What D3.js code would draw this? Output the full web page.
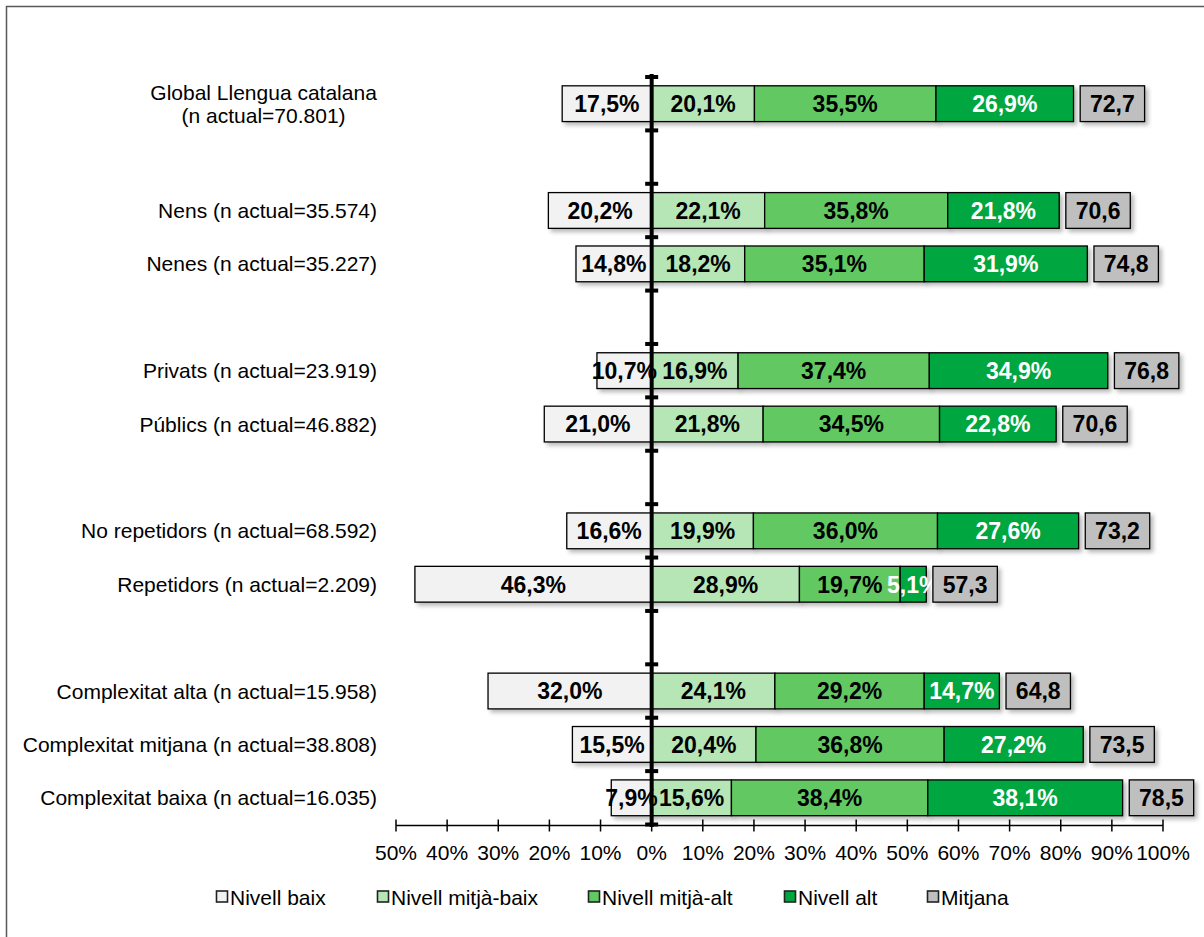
<!DOCTYPE html>
<html><head><meta charset="utf-8">
<script src="https://cdn.jsdelivr.net/npm/d3@7"></script>
<style>body{margin:0;background:#fff}svg{display:block}text{font-family:"Liberation Sans",Arial,sans-serif}</style>
</head><body><svg id="c" width="1204" height="937"></svg>
<script>
const categories = ["Global Llengua catalana\n(n actual=70.801)", "", "Nens (n actual=35.574)", "Nenes (n actual=35.227)", "", "Privats (n actual=23.919)", "Públics (n actual=46.882)", "", "No repetidors (n actual=68.592)", "Repetidors (n actual=2.209)", "", "Complexitat alta (n actual=15.958)", "Complexitat mitjana (n actual=38.808)", "Complexitat baixa (n actual=16.035)"];
const nivellBaix     = [17.5, null, 20.2, 14.8, null, 10.7, 21.0, null, 16.6, 46.3, null, 32.0, 15.5, 7.9];
const nivellMitjaBaix= [20.1, null, 22.1, 18.2, null, 16.9, 21.8, null, 19.9, 28.9, null, 24.1, 20.4, 15.6];
const nivellMitjaAlt = [35.5, null, 35.8, 35.1, null, 37.4, 34.5, null, 36.0, 19.7, null, 29.2, 36.8, 38.4];
const nivellAlt      = [26.9, null, 21.8, 31.9, null, 34.9, 22.8, null, 27.6, 5.1, null, 14.7, 27.2, 38.1];
const mitjana        = [72.7, null, 70.6, 74.8, null, 76.8, 70.6, null, 73.2, 57.3, null, 64.8, 73.5, 78.5];
const seriesNames = ["Nivell baix", "Nivell mitjà-baix", "Nivell mitjà-alt", "Nivell alt", "Mitjana"];
const xTicks = [-50,-40,-30,-20,-10,0,10,20,30,40,50,60,70,80,90,100];

const colors = ["#F2F2F2", "#B6E5B6", "#62C962", "#00A63F", "#BFBFBF"];
const textColors = ["#000", "#000", "#000", "#fff", "#000"];
const fmt = v => v.toFixed(1).replace(".", ",");
const FS = 21, LFS = 23;

const svg = d3.select("#c");
const defs = svg.append("defs");
const f = defs.append("filter").attr("id","sh").attr("x","-10%").attr("y","-30%").attr("width","130%").attr("height","180%");
f.append("feDropShadow").attr("dx",3).attr("dy",3).attr("stdDeviation",2.2).attr("flood-color","#000").attr("flood-opacity",0.28);

svg.append("path").attr("d","M6.5,940 V6.5 H1210").attr("fill","none").attr("stroke","#595959").attr("stroke-width",1.5);

const x = d3.scaleLinear().domain([-50,100]).range([396,1163]);
const y = d3.scaleBand().domain(d3.range(categories.length)).range([77,824.5]).paddingInner(0.33).paddingOuter(0.165);
const yb = d3.scaleBand().domain(d3.range(categories.length)).range([77,824.5]);
const bh = y.bandwidth();

const rows = d3.range(categories.length).filter(i => nivellBaix[i] !== null).map(i => {
  const vals = [nivellBaix[i], nivellMitjaBaix[i], nivellMitjaAlt[i], nivellAlt[i]];
  const segs = [{k:0, x0:-vals[0], x1:0, v:vals[0]}];
  let acc = 0;
  for (let k=1;k<4;k++){ segs.push({k, x0:acc, x1:acc+vals[k], v:vals[k]}); acc += vals[k]; }
  return {i, segs, end: acc, m: mitjana[i]};
});
const gapPct = 1.3, boxPct = 12.6;

const g = svg.append("g");
rows.forEach(r => {
  const gy = y(r.i);
  r.segs.forEach(s => {
    g.append("rect").attr("x", x(s.x0)).attr("y", gy).attr("width", x(s.x1)-x(s.x0)).attr("height", bh)
      .attr("fill", colors[s.k]).attr("stroke","#000").attr("stroke-width",1.3).attr("filter","url(#sh)");
  });
});
rows.forEach(r => {
  const gy = y(r.i);
  r.segs.forEach(s => {
    g.append("text").attr("x", (x(s.x0)+x(s.x1))/2).attr("y", gy+bh/2).attr("dy","0.36em")
      .attr("text-anchor","middle").attr("font-weight","bold").attr("font-size",LFS).attr("fill",textColors[s.k]).text(fmt(s.v)+"%");
  });
});
rows.forEach(r => {
  const gy = y(r.i);
  const bx0 = x(r.end+gapPct), bx1 = x(r.end+gapPct+boxPct);
  g.append("rect").attr("x", bx0).attr("y", gy).attr("width", bx1-bx0).attr("height", bh)
    .attr("fill", colors[4]).attr("stroke","#000").attr("stroke-width",1.3).attr("filter","url(#sh)");
  g.append("text").attr("x", (bx0+bx1)/2).attr("y", gy+bh/2).attr("dy","0.36em")
    .attr("text-anchor","middle").attr("font-weight","bold").attr("font-size",LFS).attr("fill","#000").text(fmt(r.m));
});

categories.forEach((c,i) => {
  if (!c) return;
  const lines = c.split("\n");
  const cy = yb(i) + yb.bandwidth()/2;
  if (lines.length === 1) {
    svg.append("text").attr("x",377).attr("y",cy).attr("dy","0.36em").attr("text-anchor","end").attr("font-size",FS).text(c);
  } else {
    const t = svg.append("text").attr("font-size",FS).attr("text-anchor","middle");
    lines.forEach((l,j)=> t.append("tspan").attr("x",0).attr("y", cy + (j-(lines.length-1)/2)*23).attr("dy","0.36em").text(l));
    const w = t.node().getBBox().width;
    t.selectAll("tspan").attr("x", 377 - w/2);
  }
});

const ax = svg.append("g").attr("transform","translate(0,825.5)");
ax.append("line").attr("x1",x(-50)).attr("x2",x(100)).attr("stroke","#000").attr("stroke-width",1.5);
ax.selectAll("line.t").data(xTicks).enter().append("line").attr("class","t")
  .attr("x1",d=>x(d)).attr("x2",d=>x(d)).attr("y1",-6).attr("y2",6).attr("stroke","#000").attr("stroke-width",1.5);
ax.selectAll("text").data(xTicks).enter().append("text").attr("x",d=>x(d)).attr("y",27).attr("dy","0.36em")
  .attr("text-anchor","middle").attr("font-size",FS).text(d=>Math.abs(d)+"%");

const x0 = x(0);
svg.append("line").attr("x1",x0).attr("x2",x0).attr("y1",74).attr("y2",827).attr("stroke","#000").attr("stroke-width",4);
svg.selectAll("rect.vt").data(d3.range(categories.length+1)).enter().append("rect").attr("class","vt")
  .attr("x",x0-6.5).attr("width",13).attr("height",4)
  .attr("y",d=> (d<categories.length ? yb(d) : 824.5) - 2).attr("fill","#000");

const legX = [216, 377, 588, 784, 927];
seriesNames.forEach((n,k) => {
  const lg = svg.append("g").attr("transform",`translate(${legX[k]},897)`);
  lg.append("rect").attr("x",0.5).attr("y",-6).attr("width",11).attr("height",11).attr("fill",colors[k]).attr("stroke","#222").attr("stroke-width",1.6);
  lg.append("text").attr("x",14).attr("y",0).attr("dy","0.36em").attr("font-size",FS).text(n);
});
</script></body></html>
